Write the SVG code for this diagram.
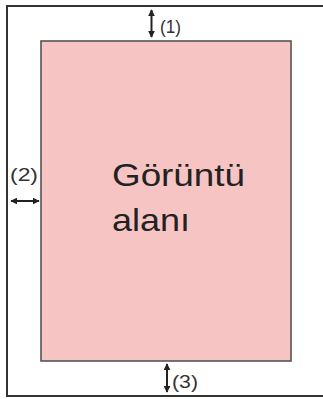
<svg xmlns="http://www.w3.org/2000/svg" width="323" height="399" viewBox="0 0 323 399">
<style>
.frame{fill:none;stroke:#333;stroke-width:2}
.area{fill:#f7c4c4;stroke:#555;stroke-width:1.6}
.dim{fill:none;stroke:#222;stroke-width:2;marker-start:url(#ah);marker-end:url(#ah)}
.lbl{font-family:"Liberation Sans",Arial,sans-serif;font-size:18px;fill:#333}
.big{font-family:"Liberation Sans",Arial,sans-serif;font-size:32px;fill:#222}
</style>
<defs>
<marker id="ah" viewBox="0 0 10 10" refX="9" refY="5" markerWidth="3.4" markerHeight="3.4" orient="auto-start-reverse" markerUnits="strokeWidth">
<path d="M0,0 L10,5 L0,10 Z" fill="#222"/>
</marker>
</defs>
<g id="frame"><path class="frame" d="M323,6 H7 V396 H323"/></g>
<g id="image-area">
<rect class="area" x="41" y="41" width="250" height="320"/>
<text class="big" x="112" y="186" textLength="133" lengthAdjust="spacingAndGlyphs">Görüntü</text>
<text class="big" x="112" y="231" textLength="78" lengthAdjust="spacingAndGlyphs">alanı</text>
</g>
<g id="connectors">
<line class="dim" x1="151.5" y1="10" x2="151.5" y2="37"/>
<line class="dim" x1="11" y1="201" x2="39" y2="201"/>
<line class="dim" x1="167" y1="364" x2="167" y2="392"/>
</g>
<g id="labels">
<text class="lbl" x="160" y="33" textLength="21" lengthAdjust="spacingAndGlyphs">(1)</text>
<text class="lbl" x="10" y="181" textLength="28" lengthAdjust="spacingAndGlyphs">(2)</text>
<text class="lbl" x="172" y="388" textLength="26" lengthAdjust="spacingAndGlyphs">(3)</text>
</g>
</svg>
